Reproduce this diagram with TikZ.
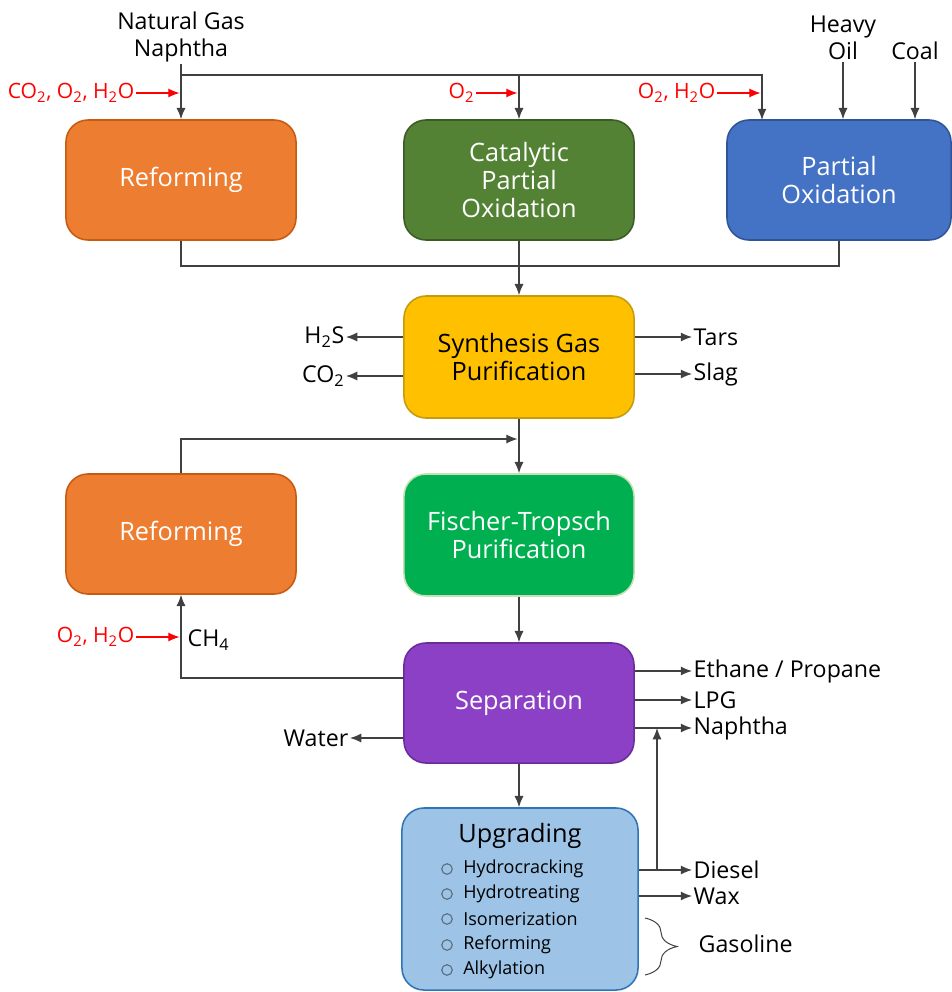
\documentclass[tikz,border=0pt]{standalone}
\usepackage{fontspec}
\setmainfont{Open Sans}
\usetikzlibrary{positioning,shapes,arrows.meta,decorations.pathreplacing}
\definecolor{reforange}{HTML}{ED7D31}
\definecolor{reforangeline}{HTML}{C55A11}
\definecolor{cpogreen}{HTML}{548235}
\definecolor{cpogreenline}{HTML}{3B5B25}
\definecolor{poxblue}{HTML}{4472C4}
\definecolor{poxblueline}{HTML}{2F5597}
\definecolor{syngold}{HTML}{FFC000}
\definecolor{syngoldline}{HTML}{C49A10}
\definecolor{ftgreen}{HTML}{00B050}
\definecolor{ftgreenline}{HTML}{C5E0B4}
\definecolor{seppurple}{HTML}{8B40C6}
\definecolor{seppurpleline}{HTML}{6A2C99}
\definecolor{upgblue}{HTML}{9DC3E6}
\definecolor{upgblueline}{HTML}{2E75B6}
\definecolor{bulletgray}{HTML}{5A6E80}
\definecolor{flowgray}{HTML}{404040}
\tikzset{
  basic/.style   = {draw, rounded corners=0.55cm, line width=1.1pt, align=center,
                    minimum width=5.75cm, minimum height=3cm, inner sep=2pt,
                    font=\fontsize{18}{20}\selectfont},
  reform/.style  = {basic, fill=reforange, draw=reforangeline, text=white},
  cpox/.style    = {basic, fill=cpogreen, draw=cpogreenline, text=white},
  pox/.style     = {basic, fill=poxblue, draw=poxblueline, text=white, minimum width=5.6cm},
  syngas/.style  = {basic, fill=syngold, draw=syngoldline, text=black, minimum height=3.05cm},
  ftbox/.style   = {basic, fill=ftgreen, draw=ftgreenline, text=white, minimum height=3.05cm},
  sepbox/.style  = {basic, fill=seppurple, draw=seppurpleline, text=white},
  upgbox/.style  = {basic, fill=upgblue, draw=upgblueline, minimum width=5.9cm,
                    minimum height=4.55cm},
  lbl/.style     = {inner sep=1pt, align=center, font=\fontsize{16.5}{19.5}\selectfont},
  feed/.style    = {lbl, text=red, font=\fontsize{15}{18}\selectfont},
  item/.style    = {inner sep=0pt, anchor=west, font=\fontsize{12.8}{15}\selectfont},
  bullet/.style  = {circle, draw=bulletgray, line width=0.8pt, minimum size=7.5pt, inner sep=0pt},
  flow/.style    = {-{Latex[length=8pt,width=6.5pt]}, draw=flowgray, line width=0.9pt},
  line/.style    = {draw=flowgray, line width=0.9pt},
  redflow/.style = {-{Latex[length=8pt,width=6.5pt]}, draw=red, line width=0.9pt, shorten >=1pt}
}
\begin{document}
\begin{tikzpicture}[x=0.025cm, y=-0.025cm]
\useasboundingbox (0,0) rectangle (952,992);

% process boxes
\node[reform] (ref1) at (181,180) {Reforming};
\node[cpox]   (cpo)  at (519,180) {Catalytic\\Partial\\Oxidation};
\node[pox]    (pox)  at (839,180) {Partial\\Oxidation};
\node[syngas] (sgp)  at (519,357) {Synthesis Gas\\Purification};
\node[reform] (ref2) at (181,534) {Reforming};
\node[ftbox]  (ft)   at (519,535) {Fischer-Tropsch\\Purification};
\node[sepbox] (sep)  at (519,703) {Separation};
\node[upgbox] (upg)  at (520,899) {};

% upgrading contents
\node[font=\fontsize{18}{20}\selectfont, inner sep=0pt] (upgtitle) at (520,836) {Upgrading};
\foreach \name/\y [count=\i] in {Hydrocracking/869, Hydrotreating/894,
                                 Isomerization/919, Reforming/945, Alkylation/970}{
  \node[bullet] (b\i) at (447,\y) {};
  \node[item] (u\i) at (463,\y) {\name};
}

% feeds on top
\node[lbl] (ngas) at (181,37) {Natural Gas\\Naphtha};
\node[lbl] (oil)  at (843,38) {Heavy\\Oil};
\node[lbl] (coal) at (915,51) {Coal};
\coordinate (split) at (181,75);
\coordinate (poxin) at (762,120);
\draw[line] (ngas.south) -- (split);
\draw[flow] (split) -- (ref1.north);
\draw[flow] (split) -| (poxin);
\draw[flow] (split -| cpo.north) -- (cpo.north);
\draw[flow] (oil.south) -- (oil.south |- pox.north);
\draw[flow] (coal.south) -- (coal.south |- pox.north);

% oxidants
\node[feed, anchor=east] (ox1) at (136,93) {CO\textsubscript{2}, O\textsubscript{2}, H\textsubscript{2}O};
\node[feed, anchor=east] (ox2) at (476,93) {O\textsubscript{2}};
\node[feed, anchor=east] (ox3) at (717,93) {O\textsubscript{2}, H\textsubscript{2}O};
\draw[redflow] (ox1.east) -- (ox1.east -| ref1.north);
\draw[redflow] (ox2.east) -- (ox2.east -| cpo.north);
\draw[redflow] (ox3.east) -- (ox3.east -| poxin);

% collect the syngas
\coordinate (merge) at (519,266);
\draw[line] (ref1.south) |- (merge) -| (pox.south);
\draw[flow] (cpo.south) -- (sgp.north);

% purification outputs
\node[lbl, anchor=east] (h2s)  at (346,337) {H\textsubscript{2}S};
\node[lbl, anchor=east] (co2)  at (346,376) {CO\textsubscript{2}};
\node[lbl, anchor=west] (tars) at (692,337) {Tars};
\node[lbl, anchor=west] (slag) at (692,374) {Slag};
\draw[flow] (sgp.west |- h2s) -- (h2s.east);
\draw[flow] (sgp.west |- co2) -- (co2.east);
\draw[flow] (sgp.east |- tars) -- (tars.west);
\draw[flow] (sgp.east |- slag) -- (slag.west);

% to Fischer-Tropsch, with recycle from reforming
\coordinate (ftin) at (519,439);
\draw[flow] (sgp.south) -- (ft.north);
\draw[flow, shorten >=1pt] (ref2.north) |- (ftin);
\draw[flow] (ft.south) -- (sep.north);

% separation outputs
\coordinate (sepch4) at (404,678);
\draw[flow] (sepch4) -| (ref2.south);
\node[lbl, anchor=west] (ch4) at (186,640) {CH\textsubscript{4}};
\node[feed, anchor=east] (ox4) at (136,637) {O\textsubscript{2}, H\textsubscript{2}O};
\draw[redflow] (ox4.east) -- (ox4.east -| ref2.south);
\node[lbl, anchor=east] (water)   at (350,738) {Water};
\node[lbl, anchor=west] (ethane)  at (692,671) {Ethane / Propane};
\node[lbl, anchor=west] (lpg)     at (692,700) {LPG};
\node[lbl, anchor=west] (naphtha) at (692,728) {Naphtha};
\draw[flow] (sep.west |- water) -- (water.east);
\draw[flow] (sep.east |- ethane) -- (ethane.west);
\draw[flow] (sep.east |- lpg) -- (lpg.west);
\draw[flow] (sep.east |- naphtha) -- (naphtha.west);
\draw[flow] (sep.south) -- (sep.south |- upg.north);

% upgrading outputs
\node[lbl, anchor=west] (diesel)   at (692,870) {Diesel};
\node[lbl, anchor=west] (wax)      at (692,896) {Wax};
\node[lbl, anchor=west] (gasoline) at (697,944) {Gasoline};
\coordinate (dsplit) at (657,870);
\draw[flow] (upg.east |- diesel) -- (diesel.west);
\draw[flow] (upg.east |- wax) -- (wax.west);
\draw[flow] (dsplit) -- (dsplit |- naphtha);
\draw[draw=flowgray, line width=0.7pt, decorate,
      decoration={brace, amplitude=0.8cm, aspect=0.5}] (645,918) -- (645,975);

\end{tikzpicture}
\end{document}
